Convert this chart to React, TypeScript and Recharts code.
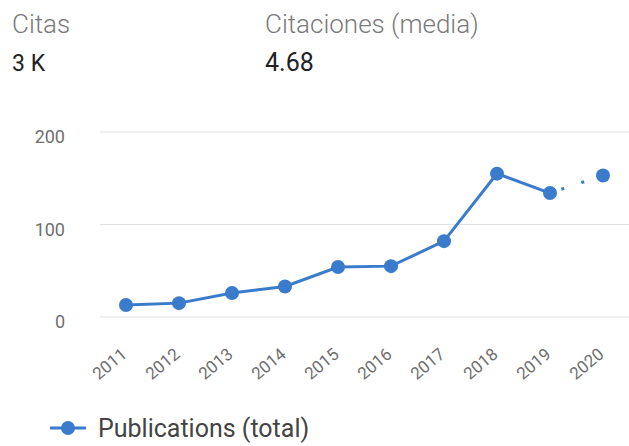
import React from 'react'
import { LineChart, Line, XAxis, YAxis, CartesianGrid, Legend } from 'recharts'

const years = ['2011', '2012', '2013', '2014', '2015', '2016', '2017', '2018', '2019', '2020']
const publications = [13, 15, 26, 33, 54, 55, 82, 155, 134, 153]
const yTicks = [0, 100, 200]

const summaryLabels = ['Citas', 'Citaciones (media)']
const summaryValues = ['3 K', '4.68']

const seriesName = 'Publications (total)'
const blue = '#3a7bcc'
const font = 'Roboto, "Noto Sans", sans-serif'

// last year is still in progress: drawn with a dotted segment
const last = years.length - 1
const data = years.map((year, i) => ({
  year,
  total: i < last ? publications[i] : null,
  partial: i >= last - 1 ? publications[i] : null,
}))

const YTick = ({ x, y, payload }: any) => (
  <text x={x} y={y} dy={11} textAnchor="end" fill="#6f6f6f" fontSize={18} fontFamily={font}>
    {payload.value}
  </text>
)

const XTick = ({ x, y, payload }: any) => (
  <g transform={`translate(${x + 2},${y + 31})`}>
    <text transform="rotate(-40)" textAnchor="end" fill="#6f6f6f" fontSize={17} fontFamily={font}>
      {payload.value}
    </text>
  </g>
)

const PartialDot = (props: any) => {
  if (props.index !== last) return <g key={`pd-${props.index}`} />
  return <circle key={`pd-${props.index}`} cx={props.cx} cy={props.cy} r={7} fill={blue} />
}

const LegendContent = () => (
  <div style={{ display: 'flex', alignItems: 'center', height: 28, fontFamily: font }}>
    <svg width={38} height={20}>
      <line x1={0} y1={10} x2={36} y2={10} stroke={blue} strokeWidth={3} />
      <circle cx={18} cy={10} r={7} fill={blue} />
    </svg>
    <span style={{ marginLeft: 10, fontSize: 25, color: '#444' }}>{seriesName}</span>
  </div>
)

export default function App() {
  return (
    <div style={{ position: 'absolute', left: 0, top: 0, width: 629, height: 446, background: '#fff' }}>
      <svg width={629} height={90} style={{ position: 'absolute', left: 0, top: 0 }}>
        {summaryLabels.map((label, i) => (
          <g key={label}>
            <text x={i === 0 ? 12 : 265} y={33} fontSize={26} fontWeight={300} fill="#7a7a7a" fontFamily={font}>
              {label}
            </text>
            <text x={i === 0 ? 12 : 265} y={71} fontSize={i === 0 ? 23 : 25} fill="#222" fontFamily={font}>
              {summaryValues[i]}
            </text>
          </g>
        ))}
      </svg>
      <LineChart width={629} height={446} data={data} margin={{ top: 132, right: 0, bottom: 0, left: 0 }}>
        <CartesianGrid vertical={false} stroke="#e2e2e2" />
        <XAxis
          dataKey="year"
          axisLine={false}
          tickLine={false}
          interval={0}
          height={101}
          padding={{ left: 26, right: 26 }}
          tick={<XTick />}
        />
        <YAxis
          domain={[0, 200]}
          ticks={yTicks}
          axisLine={false}
          tickLine={false}
          tickSize={0}
          tickMargin={35}
          width={100}
          tick={<YTick />}
        />
        <Legend
          verticalAlign="bottom"
          align="left"
          content={<LegendContent />}
          wrapperStyle={{ left: 50, bottom: 4, width: 340 }}
        />
        <Line
          dataKey="total"
          name={seriesName}
          stroke={blue}
          strokeWidth={3}
          dot={{ r: 7, fill: blue, stroke: 'none' }}
          activeDot={false}
          connectNulls={false}
          isAnimationActive={false}
        />
        <Line
          dataKey="partial"
          stroke={blue}
          strokeWidth={3}
          strokeDasharray="3 18"
          strokeDashoffset={9}
          dot={<PartialDot />}
          activeDot={false}
          legendType="none"
          isAnimationActive={false}
        />
      </LineChart>
    </div>
  )
}
